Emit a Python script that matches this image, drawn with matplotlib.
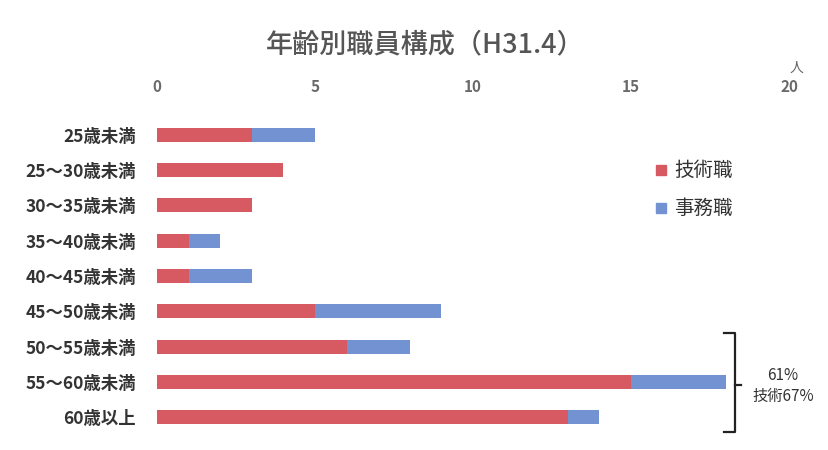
import matplotlib
matplotlib.use("Agg")
import matplotlib.pyplot as plt
from matplotlib.patches import Rectangle

plt.rcParams['font.family'] = ['Noto Sans CJK JP', 'DejaVu Sans']

categories = ['25歳未満', '25～30歳未満', '30～35歳未満', '35～40歳未満', '40～45歳未満',
              '45～50歳未満', '50～55歳未満', '55～60歳未満', '60歳以上']
engineering = [3, 4, 3, 1, 1, 5, 6, 15, 13]   # 技術職
clerical = [2, 0, 0, 1, 2, 4, 2, 3, 1]        # 事務職
series_names = ['技術職', '事務職']
x_ticks = [0, 5, 10, 15, 20]
title = '年齢別職員構成（H31.4）'
note_lines = ['61%', '技術67%']

red = '#d75a63'
blue = '#7392d2'

fig = plt.figure(figsize=(8.29, 4.5), dpi=100)
ax = fig.add_axes([157 / 829, 1 - 435 / 450, (789 - 157) / 829, (435 - 117) / 450])

y = list(range(len(categories)))
ax.barh(y, engineering, height=0.4, color=red, label=series_names[0])
ax.barh(y, clerical, left=engineering, height=0.4, color=blue, label=series_names[1])

ax.set_xlim(0, 20)
ax.set_ylim(len(categories) - 0.5, -0.5)
ax.set_xticks(x_ticks)
ax.set_xticklabels([str(t) for t in x_ticks], fontweight='bold')
ax.xaxis.tick_top()
ax.tick_params(axis='x', length=0, pad=16, labelsize=11, labelcolor='#6a6a6a')
ax.set_yticks(y)
ax.set_yticklabels(categories, fontweight='bold')
ax.tick_params(axis='y', length=0, pad=15, labelsize=12.5, labelcolor='#333333')
for s in ax.spines.values():
    s.set_visible(False)

fig.text(797 / 829, 1 - 68 / 450, '人', fontsize=10, color='#666666', ha='center', va='center')
fig.text(425 / 829, 1 - 45 / 450, title, fontsize=19.5, color='#555555', ha='center', va='center',
         fontweight='medium')

# legend drawn as squares with labels
for i, (name, col) in enumerate(zip(series_names, [red, blue])):
    yy = 1 - (170 + 38 * i) / 450
    fig.patches.append(Rectangle((656 / 829, yy - 5 / 450), 10 / 829, 10 / 450,
                                 transform=fig.transFigure, color=col))
    fig.text(674 / 829, yy, name, fontsize=14, color='#333333', ha='left', va='center')

# bracket around the older age groups
bx0, bx1 = 724 / 829, 735 / 829
by_top, by_bot, by_mid = 1 - 333 / 450, 1 - 432 / 450, 1 - 385 / 450
fig.add_artist(plt.Line2D([bx0, bx1, bx1, bx0], [by_top, by_top, by_bot, by_bot],
                          color='#222222', lw=1.6, transform=fig.transFigure))
fig.add_artist(plt.Line2D([bx1, bx1 + 6 / 829], [by_mid, by_mid],
                          color='#222222', lw=1.6, transform=fig.transFigure))
fig.text(783 / 829, 1 - 376 / 450, note_lines[0], fontsize=11, color='#333333', ha='center', va='center')
fig.text(783 / 829, 1 - 396 / 450, note_lines[1], fontsize=11, color='#333333', ha='center', va='center')

fig.savefig('out.png', dpi=100)
